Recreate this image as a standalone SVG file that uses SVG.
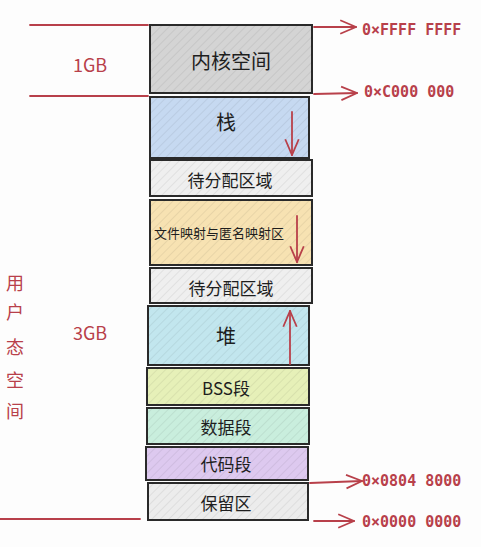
<svg xmlns="http://www.w3.org/2000/svg" width="481" height="547" viewBox="0 0 481 547">
<style>
.box{stroke:#2a2a2a;stroke-width:2}
.t{font-family:"Noto Sans CJK SC","Noto Sans",sans-serif;fill:#1e1e1e;text-anchor:middle;dominant-baseline:central}
.r{stroke:#b8404a;stroke-width:1.8;fill:none;stroke-linecap:round}
.rt{font-family:"DejaVu Sans Mono","Liberation Mono",monospace;fill:#b8404a;font-size:15px;font-weight:bold;dominant-baseline:central}
.lt{font-family:"Noto Sans CJK SC","Noto Sans",sans-serif;fill:#b8404a;font-size:18px;text-anchor:middle;dominant-baseline:central}
</style>
<defs>
<pattern id="h" width="6" height="6" patternUnits="userSpaceOnUse" patternTransform="rotate(45)">
<line x1="0" y1="0" x2="0" y2="6" stroke="#000" stroke-opacity="0.12" stroke-width="1"/>
</pattern>
<marker id="ah" viewBox="0 0 16 16" refX="15" refY="8" markerWidth="18" markerHeight="18" markerUnits="userSpaceOnUse" orient="auto">
<path d="M1,2 L15,8 L1,14" fill="none" stroke="#b8404a" stroke-width="1.6"/>
</marker>
</defs>
<rect width="481" height="547" fill="#fdfdfd"/>
<g id="kernel"><rect class="box" x="150" y="25" width="162" height="68" fill="#d4d4d4"/><rect x="150" y="25" width="162" height="68" fill="url(#h)"/><text class="t" x="231" y="60" font-size="20">内核空间</text></g>
<g id="stack"><rect class="box" x="150" y="97" width="159" height="61" fill="#c6d9f1"/><rect x="150" y="97" width="159" height="61" fill="url(#h)"/><text class="t" x="226" y="121" font-size="20">栈</text></g>
<g id="free1"><rect class="box" x="150" y="160" width="162" height="36" fill="#efefef"/><rect x="150" y="160" width="162" height="36" fill="url(#h)"/><text class="t" x="230" y="179" font-size="17">待分配区域</text></g>
<g id="mmap"><rect class="box" x="150" y="200" width="162" height="65" fill="#f7e2b2"/><rect x="150" y="200" width="162" height="65" fill="url(#h)"/><text class="t" x="219" y="232" font-size="13">文件映射与匿名映射区</text></g>
<g id="free2"><rect class="box" x="150" y="268" width="162" height="35" fill="#efefef"/><rect x="150" y="268" width="162" height="35" fill="url(#h)"/><text class="t" x="231" y="287" font-size="17">待分配区域</text></g>
<g id="heap"><rect class="box" x="148" y="306" width="161" height="59" fill="#c2e6ee"/><rect x="148" y="306" width="161" height="59" fill="url(#h)"/><text class="t" x="226" y="335" font-size="20">堆</text></g>
<g id="bss"><rect class="box" x="147" y="368" width="162" height="37" fill="#e6f0b8"/><rect x="147" y="368" width="162" height="37" fill="url(#h)"/><text class="t" x="226" y="387" font-size="17">BSS段</text></g>
<g id="data"><rect class="box" x="147" y="408" width="162" height="36" fill="#c9eedd"/><rect x="147" y="408" width="162" height="36" fill="url(#h)"/><text class="t" x="226" y="426" font-size="17">数据段</text></g>
<g id="code"><rect class="box" x="146" y="447" width="162" height="33" fill="#ddc9ef"/><rect x="146" y="447" width="162" height="33" fill="url(#h)"/><text class="t" x="226" y="463" font-size="17">代码段</text></g>
<g id="reserved"><rect class="box" x="148" y="483" width="160" height="37" fill="#ececec"/><rect x="148" y="483" width="160" height="37" fill="url(#h)"/><text class="t" x="226" y="502" font-size="17">保留区</text></g>
<g id="connectors">
<line class="r" x1="30" y1="25" x2="148" y2="25"/>
<line class="r" x1="30" y1="96" x2="148" y2="96"/>
<line class="r" x1="0" y1="519" x2="140" y2="519"/>
<line class="r" x1="314" y1="27" x2="356" y2="27" marker-end="url(#ah)"/>
<line class="r" x1="314" y1="94" x2="357" y2="93" marker-end="url(#ah)"/>
<line class="r" x1="310" y1="483" x2="362" y2="481" marker-end="url(#ah)"/>
<line class="r" x1="314" y1="521" x2="354" y2="521" marker-end="url(#ah)"/>
<line class="r" x1="292" y1="112" x2="292" y2="155" marker-end="url(#ah)"/>
<line class="r" x1="297" y1="216" x2="297" y2="262" marker-end="url(#ah)"/>
<line class="r" x1="290" y1="364" x2="290" y2="311" marker-end="url(#ah)"/>
</g>
<g id="labels">
<text class="rt" x="362" y="30">0×FFFF FFFF</text>
<text class="rt" x="364" y="92">0×C000 000</text>
<text class="rt" x="362" y="481">0×0804 8000</text>
<text class="rt" x="362" y="522">0×0000 0000</text>
<text class="lt" x="90" y="64">1GB</text>
<text class="lt" x="90" y="332">3GB</text>
<text class="lt" x="15" y="282">用</text>
<text class="lt" x="15" y="311">户</text>
<text class="lt" x="15" y="346">态</text>
<text class="lt" x="15" y="379">空</text>
<text class="lt" x="15" y="410">间</text>
</g>
</svg>
